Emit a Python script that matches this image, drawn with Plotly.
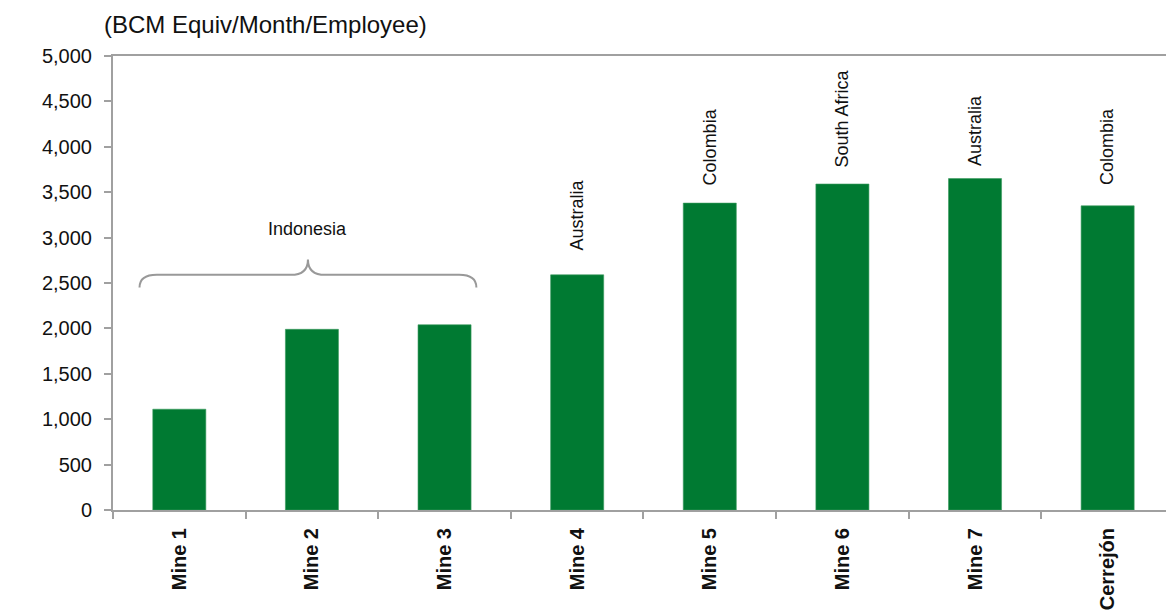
import plotly.graph_objects as go

# Productivity per mine
mines = ["Mine 1", "Mine 2", "Mine 3", "Mine 4", "Mine 5", "Mine 6", "Mine 7", "Cerrejón"]
productivity = [1110, 1990, 2040, 2590, 3380, 3590, 3650, 3350]

# Country labels written above single bars (index -> country)
country_idx = [3, 4, 5, 6, 7]
country_names = ["Australia", "Colombia", "South Africa", "Australia", "Colombia"]

# Group of mines bracketed together
group_name = "Indonesia"
group_first, group_last = 0, 2

y_ticks = [0, 500, 1000, 1500, 2000, 2500, 3000, 3500, 4000, 4500, 5000]
y_ticktext = ["0", "500", "1,000", "1,500", "2,000", "2,500", "3,000", "3,500", "4,000", "4,500", "5,000"]

GREEN = "#007A32"
AXIS = "#A0A0A0"
FONT = "Liberation Sans, Arial, sans-serif"

fig = go.Figure(
    go.Bar(
        x=mines,
        y=productivity,
        width=0.40,
        marker=dict(color=GREEN, line=dict(color="#3A9A5E", width=0.6)),
        hoverinfo="skip",
    )
)

# rotated country labels above bars
label_gap = [22, 16, 15, 10, 19]
for i, name, gap in zip(country_idx, country_names, label_gap):
    fig.add_annotation(
        x=i, y=productivity[i], text=name, textangle=-90,
        showarrow=False, xanchor="center", yanchor="bottom", yshift=gap,
        font=dict(family=FONT, size=18, color="#111111"),
    )

# curly brace spanning the grouped mines
x0 = group_first - 0.30
x1 = group_last + 0.24
xm = (x0 + x1) / 2
y_end, y_bar, y_tip = 2450, 2590, 2760
dx = 0.13
brace = (
    f"M {x0},{y_end} Q {x0},{y_bar} {x0 + dx},{y_bar} "
    f"L {xm - dx},{y_bar} Q {xm},{y_bar} {xm},{y_tip} "
    f"Q {xm},{y_bar} {xm + dx},{y_bar} "
    f"L {x1 - dx},{y_bar} Q {x1},{y_bar} {x1},{y_end}"
)
fig.add_shape(type="path", path=brace, xref="x", yref="y",
              line=dict(color="#999999", width=2))
fig.add_annotation(
    x=xm, y=3095, text=group_name, showarrow=False,
    xanchor="center", yanchor="middle",
    font=dict(family=FONT, size=18, color="#111111"),
)

# unit caption above the value axis
fig.add_annotation(
    xref="paper", yref="paper", x=0, y=1, xanchor="left", yanchor="middle",
    xshift=-11, yshift=32, text="(BCM Equiv/Month/Employee)", showarrow=False,
    font=dict(family=FONT, size=24, color="#111111"),
)

fig.update_layout(
    width=1166, height=610,
    margin=dict(l=113, r=0, t=56, b=100),
    plot_bgcolor="white", paper_bgcolor="white",
    showlegend=False,
)
fig.update_xaxes(
    type="category",
    range=[-0.5, 7.44],
    tickangle=-90, ticks="outside", tickson="boundaries",
    ticklen=7, tickwidth=2, tickcolor=AXIS,
    showline=True, linecolor=AXIS, linewidth=2, mirror=True,
    showgrid=False, zeroline=False, ticklabelstandoff=8,
    tickfont=dict(family=FONT, size=20, color="#111111", weight="bold"),
)
fig.update_yaxes(
    range=[0, 5000],
    tickmode="array", tickvals=y_ticks, ticktext=y_ticktext,
    ticks="outside", ticklen=7, tickwidth=2, tickcolor=AXIS,
    showline=True, linecolor=AXIS, linewidth=2,
    showgrid=False, zeroline=False, ticklabelstandoff=8,
    tickfont=dict(family=FONT, size=20, color="#111111"),
)

fig.write_html("out.html")
